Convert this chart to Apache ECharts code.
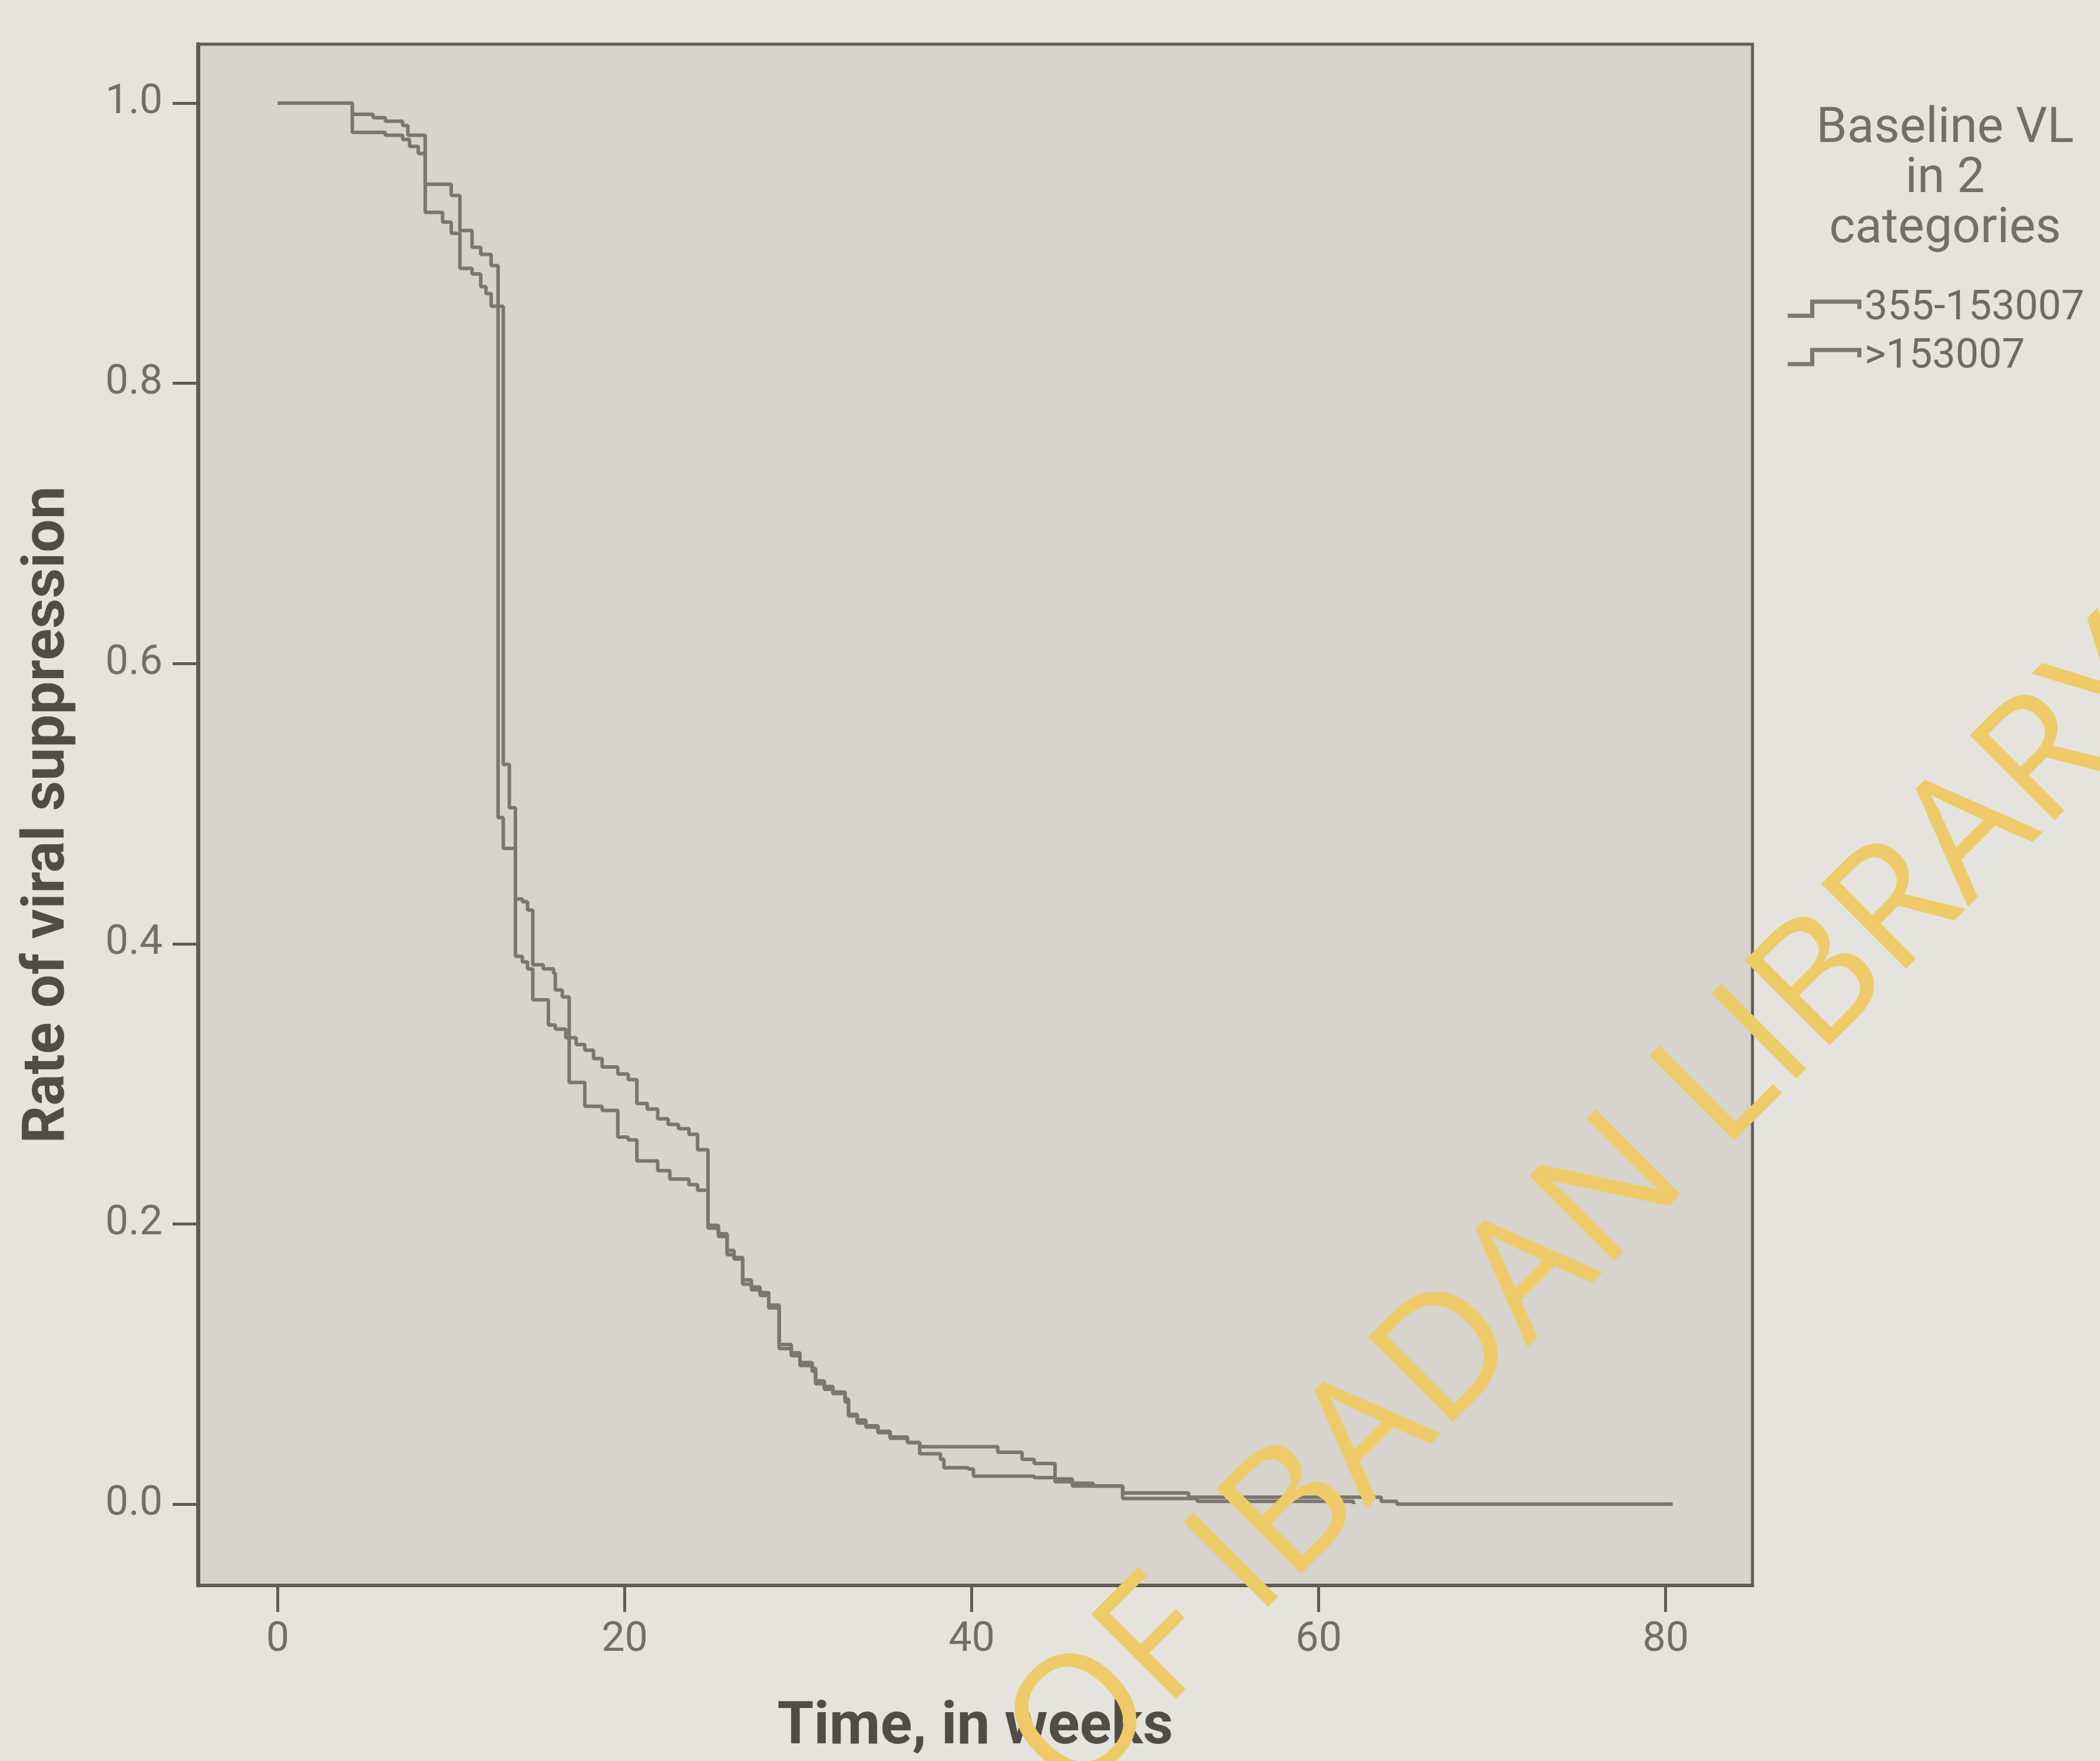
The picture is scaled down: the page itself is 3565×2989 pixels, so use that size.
<!DOCTYPE html>
<html>
<head>
<meta charset="utf-8">
<script src="https://cdn.jsdelivr.net/npm/echarts@6/dist/echarts.min.js"></script>
<style>
html,body{margin:0;padding:0;background:#e4e3dd;}
#chart{width:3565px;height:2989px;}
</style>
</head>
<body>
<div id="chart"></div>
<script>
// ---- data ----
const seriesNames = ['355-153007', '>153007'];
const xTicks = [0, 20, 40, 60, 80];
const yTicks = [0, 0.2, 0.4, 0.6, 0.8, 1.0];

// group 355-153007
const weeksLow = [0, 4.3, 6.2, 7.2, 7.6, 8.1, 8.5, 9.5, 10.0, 10.5, 11.2, 11.7, 12.0, 12.3, 13.0, 13.35, 13.7, 14.1, 14.4, 14.7, 15.3, 15.9, 16.0, 16.4, 16.8, 17.7, 18.7, 19.6, 20.2, 20.7, 21.9, 22.6, 23.7, 24.2, 24.8, 25.4, 25.9, 26.3, 26.8, 27.3, 27.8, 28.3, 28.9, 29.6, 30.1, 30.8, 31.0, 31.5, 32.0, 32.7, 32.9, 33.4, 33.9, 34.6, 35.3, 36.3, 37.0, 38.2, 38.4, 39.8, 40.1, 43.6, 44.8, 45.8, 48.7, 53.0, 62.0];
const rateLow  = [1.0, 0.979, 0.977, 0.974, 0.969, 0.964, 0.922, 0.915, 0.907, 0.882, 0.878, 0.869, 0.864, 0.855, 0.528, 0.497, 0.432, 0.430, 0.424, 0.385, 0.382, 0.379, 0.367, 0.362, 0.301, 0.284, 0.281, 0.262, 0.260, 0.245, 0.238, 0.232, 0.228, 0.224, 0.199, 0.193, 0.181, 0.176, 0.160, 0.155, 0.151, 0.142, 0.114, 0.108, 0.101, 0.097, 0.088, 0.084, 0.080, 0.075, 0.064, 0.060, 0.056, 0.052, 0.048, 0.044, 0.036, 0.032, 0.026, 0.025, 0.020, 0.019, 0.016, 0.013, 0.004, 0.002, 0.0];

// group >153007
const weeksHigh = [0, 4.3, 5.5, 6.2, 7.2, 7.5, 8.5, 10.0, 10.5, 11.2, 11.7, 12.3, 12.7, 13.0, 13.7, 14.1, 14.4, 14.7, 15.6, 16.0, 16.6, 17.2, 17.7, 18.2, 18.7, 19.6, 20.2, 20.7, 21.3, 21.9, 22.5, 23.1, 23.7, 24.2, 24.8, 25.4, 25.9, 26.3, 26.8, 27.3, 27.8, 28.3, 28.9, 29.6, 30.1, 30.8, 31.0, 31.5, 32.0, 32.7, 32.9, 33.4, 33.9, 34.6, 35.3, 36.3, 37.0, 41.5, 42.9, 43.6, 44.8, 45.8, 47.0, 48.7, 52.5, 63.6, 64.5, 80.4];
const rateHigh  = [1.0, 0.992, 0.9895, 0.987, 0.984, 0.977, 0.942, 0.934, 0.909, 0.897, 0.892, 0.884, 0.490, 0.468, 0.391, 0.387, 0.382, 0.360, 0.342, 0.339, 0.333, 0.328, 0.324, 0.318, 0.312, 0.307, 0.303, 0.286, 0.282, 0.275, 0.271, 0.268, 0.264, 0.253, 0.197, 0.191, 0.178, 0.175, 0.157, 0.153, 0.149, 0.140, 0.111, 0.106, 0.099, 0.095, 0.086, 0.082, 0.079, 0.073, 0.063, 0.058, 0.055, 0.051, 0.047, 0.044, 0.041, 0.037, 0.032, 0.029, 0.018, 0.015, 0.013, 0.008, 0.005, 0.002, 0.0, 0.0];

const pair = (xs, ys) => xs.map((x, i) => [x, ys[i]]);

const lineColor = '#7a776f';
const chart = echarts.init(document.getElementById('chart'));
chart.setOption({
  animation: false,
  backgroundColor: '#e4e3dd',
  title: {
    text: 'Baseline VL\nin 2\ncategories',
    left: 3297,
    top: 172,
    textAlign: 'center',
    textStyle: {fontFamily: 'Roboto', fontSize: 84, fontWeight: 'normal', lineHeight: 85, color: '#726f67'}
  },
  legend: {
    orient: 'vertical',
    left: 3030,
    top: 484,
    itemWidth: 125,
    itemHeight: 31,
    itemGap: 12,
    selectedMode: false,
    icon: 'path://M0,24 L38,24 L38,0 L125,0 L125,16 L118,16 L118,7 L45,7 L45,31 L0,31 Z',
    textStyle: {fontFamily: 'Roboto', fontSize: 70, lineHeight: 70, color: '#6e6b63'},
    data: seriesNames
  },
  grid: {
    left: 336, right: 590, top: 75, bottom: 289,
    show: true,
    backgroundColor: '#d6d4cd',
    borderColor: '#5f5c56',
    borderWidth: 5
  },
  xAxis: {
    type: 'value',
    min: -4.6, max: 85,
    name: 'Time, in weeks',
    nameLocation: 'middle',
    nameGap: 193,
    nameTextStyle: {fontFamily: 'Roboto', fontWeight: 'bold', fontSize: 100, color: '#514c46'},
    axisLine: {show: true, onZero: false, lineStyle: {color: '#5f5c56', width: 6}},
    axisTick: {show: true, customValues: xTicks, length: 45, lineStyle: {color: '#5f5c56', width: 5}},
    axisLabel: {customValues: xTicks, margin: 58, fontFamily: 'Roboto', fontSize: 70, color: '#726f67', formatter: v => String(v)},
    splitLine: {show: false}
  },
  yAxis: {
    type: 'value',
    min: -0.058, max: 1.042,
    name: 'Rate of viral suppression',
    nameLocation: 'middle',
    nameGap: 203,
    nameTextStyle: {fontFamily: 'Roboto', fontWeight: 'bold', fontSize: 100, color: '#514c46'},
    axisLine: {show: true, onZero: false, lineStyle: {color: '#5f5c56', width: 7}},
    axisTick: {show: true, customValues: yTicks, length: 43, lineStyle: {color: '#5f5c56', width: 5}},
    axisLabel: {customValues: yTicks, margin: 60, fontFamily: 'Roboto', fontSize: 70, color: '#726f67', formatter: v => v.toFixed(1)},
    splitLine: {show: false}
  },
  series: [
    {
      name: seriesNames[0], type: 'line', step: 'end',
      data: pair(weeksLow, rateLow),
      showSymbol: false, symbol: 'none',
      itemStyle: {color: lineColor},
      lineStyle: {color: lineColor, width: 6}
    },
    {
      name: seriesNames[1], type: 'line', step: 'end',
      data: pair(weeksHigh, rateHigh),
      showSymbol: false, symbol: 'none',
      itemStyle: {color: lineColor},
      lineStyle: {color: lineColor, width: 6}
    }
  ],
  graphic: [
    {
      type: 'text', z: 100,
      x: 2705, y: 2060,
      rotation: Math.PI / 4,
      style: {
        text: 'OF IBADAN LIBRARY',
        font: '285px "Open Sans"',
        fill: '#eecb68',
        align: 'center',
        verticalAlign: 'middle'
      }
    }
  ]
});
</script>
</body>
</html>
